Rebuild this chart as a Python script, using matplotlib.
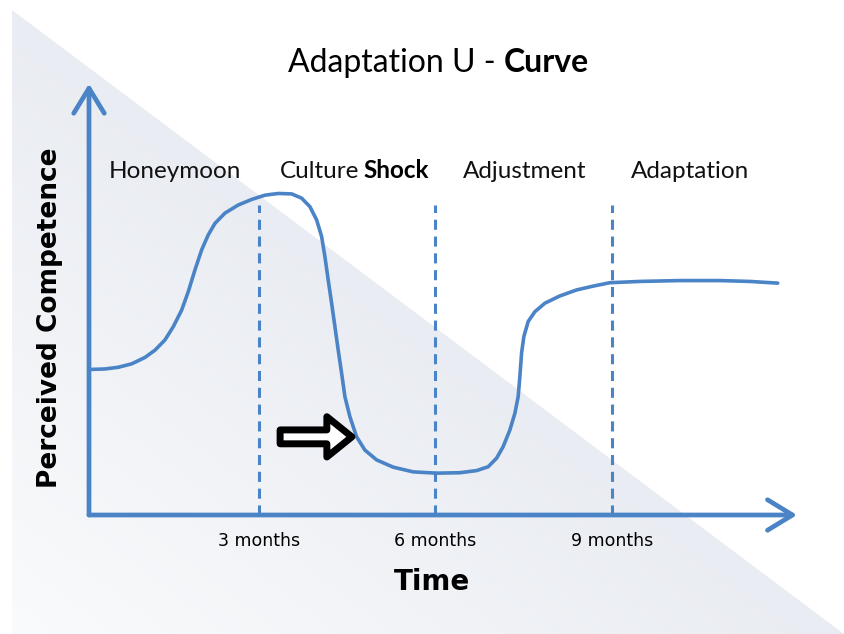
import numpy as np
import matplotlib.pyplot as plt
from matplotlib.patches import Polygon

## data
# time in months, perceived competence on a 0..10 scale
months = [0.156, 0.382, 0.609, 0.836, 1.062, 1.232, 1.402, 1.543, 1.686, 1.798,
          1.912, 2.026, 2.138, 2.252, 2.422, 2.648, 2.876, 3.102, 3.328, 3.556,
          3.726, 3.867, 3.981, 4.066, 4.122, 4.178, 4.236, 4.292, 4.348, 4.406,
          4.462, 4.547, 4.661, 4.802, 5.001, 5.283, 5.623, 6.021, 6.417, 6.701,
          6.898, 7.041, 7.153, 7.267, 7.352, 7.408, 7.437, 7.466, 7.505, 7.578,
          7.692, 7.862, 8.117, 8.400, 8.683, 8.967, 9.477, 10.157, 10.837, 11.346,
          11.822]
competence = [3.41, 3.42, 3.46, 3.54, 3.69, 3.86, 4.10, 4.41, 4.80, 5.23,
              5.74, 6.21, 6.56, 6.83, 7.07, 7.26, 7.39, 7.49, 7.53, 7.52,
              7.42, 7.22, 6.91, 6.52, 6.05, 5.50, 4.96, 4.41, 3.86, 3.32,
              2.77, 2.30, 1.83, 1.52, 1.29, 1.12, 1.01, 0.98, 0.99, 1.04,
              1.13, 1.33, 1.60, 1.99, 2.38, 2.77, 3.24, 3.79, 4.18, 4.53,
              4.76, 4.96, 5.13, 5.27, 5.36, 5.44, 5.47, 5.49, 5.49, 5.47,
              5.43]

tick_months = [3, 6, 9]
tick_labels = ['3 months', '6 months', '9 months']
phase_x = [1.57, 4.70, 7.52, 10.33]
phase_names = ['Honeymoon', 'Culture', 'Adjustment', 'Adaptation']
divider_top = 7.26

blue = '#4a84c6'
W, H = 844, 634

fig = plt.figure(figsize=(W/100, H/100), dpi=100)
fig.patch.set_facecolor('white')

# background: gradient triangle, in pixel coords
bg = fig.add_axes([0, 0, 1, 1], zorder=0)
bg.set_xlim(0, W)
bg.set_ylim(H, 0)
bg.axis('off')
yy, xx = np.mgrid[0:H, 0:W]
# distance from the diagonal (12,10)-(844,634), grows toward bottom-left
d = ((yy - 10) * 832 - (xx - 12) * 624) / np.hypot(832, 624)
t = np.clip(d / d.max(), 0, 1)
c0 = np.array([233, 236, 242]) / 255.
c1 = np.array([250, 251, 252]) / 255.
img = c0[None, None, :] * (1 - t[..., None]) + c1[None, None, :] * t[..., None]
tri = Polygon([(12, 10), (12, 634), (844, 634)], closed=True, transform=bg.transData)
im = bg.imshow(img, extent=(0, W, H, 0), interpolation='bilinear')
im.set_clip_path(tri)

# main chart
ax = fig.add_axes([89/W, (H-515)/H, 708/W, 427/H], zorder=1)
ax.patch.set_alpha(0)
ax.set_xlim(0.11, 12.15)
ax.set_ylim(0, 10)
for s in ax.spines.values():
    s.set_visible(False)
ax.set_yticks([])
ax.set_xticks(tick_months, tick_labels, fontsize=12.5, family='DejaVu Sans')
ax.tick_params(axis='x', length=0, pad=12)

# axis arrows
arrow_kw = dict(arrowstyle='->,head_length=0.9,head_width=0.55', color=blue, lw=3.4,
                shrinkA=0, shrinkB=0, capstyle='round', joinstyle='round', mutation_scale=20)
ax.annotate('', xy=(1, 0), xytext=(0, 0), xycoords='axes fraction', arrowprops=arrow_kw,
            annotation_clip=False)
ax.annotate('', xy=(0, 1.01), xytext=(0, 0), xycoords='axes fraction', arrowprops=arrow_kw,
            annotation_clip=False)

ax.vlines(tick_months, 0, divider_top, colors=blue, lw=2.2, linestyles=(0, (3.3, 2.2)))
ax.plot(months, competence, color=blue, lw=2.6, solid_capstyle='round',
        solid_joinstyle='round', clip_on=False)

# black outlined block arrow pointing at the dip
ax.annotate('', xy=(4.58, 1.83), xytext=(3.36, 1.83),
            arrowprops=dict(arrowstyle='simple,head_length=0.9,head_width=1.45,tail_width=0.5',
                            fc='white', ec='black', lw=5, shrinkA=0, shrinkB=0,
                            mutation_scale=20, joinstyle='round'))

# phase labels
label_y = 7.89
for x, name in zip(phase_x, phase_names):
    if name == 'Culture':
        t1 = ax.text(x, label_y, 'Culture', family='Lato', fontsize=17.5,
                     ha='right', va='baseline', color='#111111')
        ax.annotate('Shock', xy=(1, label_y), xycoords=(t1, 'data'), va='baseline', ha='left',
                    xytext=(3, 0), textcoords='offset points',
                    family='Lato', fontsize=17.5, fontweight='bold')
    else:
        ax.text(x, label_y, name, family='Lato', fontsize=17.5,
                ha='center', va='baseline', color='#111111')

ax.set_xlabel('Time', family='DejaVu Sans', fontsize=20, fontweight='bold')
ax.xaxis.set_label_coords(0.484, -0.125)
ax.set_ylabel('Perceived Competence', family='DejaVu Sans', fontsize=19, fontweight='bold')
ax.yaxis.set_label_coords(-0.037, 0.461)

# title, last word in bold
title_y = 1 - 72/H
tt = fig.text(288/W, title_y, 'Adaptation U - ', family='Lato', fontsize=23,
              ha='left', va='baseline')
fig.add_artist(plt.Annotation('Curve', xy=(1, title_y), xycoords=(tt, 'figure fraction'),
                              va='baseline', ha='left', family='Lato', fontsize=23,
                              fontweight='bold'))

fig.savefig('out.png', dpi=100)
